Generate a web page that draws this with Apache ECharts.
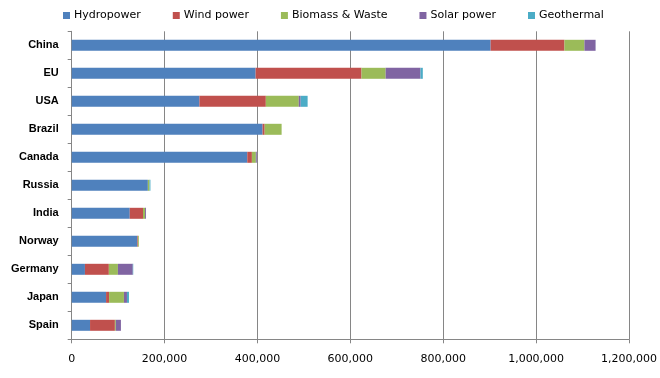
<!DOCTYPE html>
<html><head><meta charset="utf-8">
<script src="https://cdn.jsdelivr.net/npm/echarts@6/dist/echarts.min.js"></script>
<style>html,body{margin:0;padding:0;background:#fff}#c{width:660px;height:378px}</style>
</head><body><div id="c"></div>
<script>
const categories = ["China","EU","USA","Brazil","Canada","Russia","India","Norway","Germany","Japan","Spain"];
const seriesNames = ["Hydropower","Wind power","Biomass & Waste","Solar power","Geothermal"];
const hydropower = [902000,396000,275000,411000,378000,164000,125000,141000,28500,74000,39500];
const windPower  = [159000,228000,143000,4500,10000,0,28500,1500,51500,6500,53500];
const biomass    = [43000,52000,71000,36500,8500,3500,4500,2000,19500,32000,2000];
const solarPower = [24000,75000,4000,0,2000,0,2000,0,32000,6500,11000];
const geothermal = [100,5000,15000,0,0,2000,0,0,1000,4300,0];
const xTicks = [0,200000,400000,600000,800000,1000000,1200000];
const colors = ["#4F81BD","#C0504D","#9BBB59","#8064A2","#4BACC6"];

const values = [hydropower, windPower, biomass, solarPower, geothermal];
const chart = echarts.init(document.getElementById('c'));
chart.setOption({
  animation:false,
  color: colors,
  legend:{
    data: seriesNames, left: 58, top: 5, icon:'rect', itemWidth:7, itemHeight:7,
    itemGap: 32,
    textStyle:{fontFamily:'DejaVu Sans', fontSize:11, color:'#000', padding:[0,0,0,-1]}
  },
  grid:{left:71.7, right:30, top:31.3, bottom:38.7, containLabel:false},
  xAxis:{
    type:'value', min:xTicks[0], max:xTicks[xTicks.length-1], interval:200000,
    axisLine:{show:true, lineStyle:{color:'#868686'}},
    axisTick:{show:true, length:4, lineStyle:{color:'#868686'}},
    splitLine:{show:true, lineStyle:{color:'#868686', width:1}},
    axisLabel:{margin:14, fontFamily:'DejaVu Sans', fontSize:11, color:'#000',
      formatter: v => v.toLocaleString('en-US')}
  },
  yAxis:{
    type:'category', data: categories, inverse:true,
    axisLine:{show:true, lineStyle:{color:'#868686'}},
    axisTick:{show:true, length:4, lineStyle:{color:'#868686'}},
    axisLabel:{margin:13, fontFamily:'Liberation Sans', fontWeight:'bold', fontSize:11, color:'#000'}
  },
  series: seriesNames.map((n,i)=>({
    name:n, type:'bar', stack:'total', data: values[i], barWidth:11
  }))
});
</script></body></html>
